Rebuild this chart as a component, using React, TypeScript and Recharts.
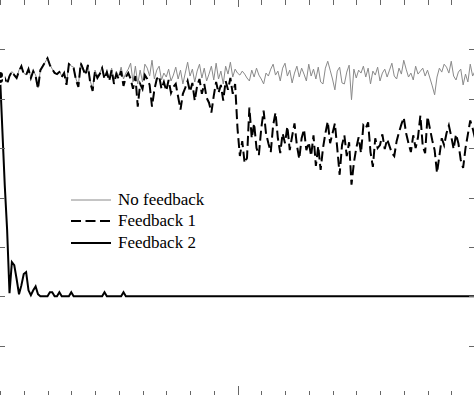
import React from 'react';
import { LineChart, Line, XAxis, YAxis } from 'recharts';

// sample index 0..200
const noFeedback = [
  4.40, 4.36, 4.42, 4.33, 4.47, 4.55, 4.50, 4.42, 4.58, 4.66, 4.52, 4.48, 4.60, 4.44, 4.56, 4.48, 4.22, 4.58, 4.68, 4.74,
  4.82, 4.70, 4.60, 4.55, 4.50, 4.56, 4.46, 4.52, 4.30, 4.72, 4.66, 4.64, 4.40, 4.27, 4.74, 4.62, 4.50, 4.70, 4.36, 4.20,
  4.58, 4.46, 4.52, 4.64, 4.44, 4.56, 4.40, 4.62, 4.36, 4.55, 4.46, 4.64, 4.40, 4.52, 4.60, 4.72, 4.34, 4.66, 4.30, 4.58,
  4.34, 4.70, 4.62, 4.46, 4.78, 4.40, 4.58, 4.66, 4.38, 4.52, 4.44, 4.60, 4.36, 4.48, 4.64, 4.40, 4.58, 4.30, 4.52, 4.74,
  4.46, 4.60, 4.34, 4.56, 4.70, 4.42, 4.62, 4.36, 4.50, 4.66, 4.38, 4.72, 4.40, 4.56, 4.30, 4.66, 4.50, 4.74, 4.44, 4.60,
  4.52, 4.48, 4.56, 4.50, 4.42, 4.36, 4.58, 4.44, 4.62, 4.48, 4.40, 4.30, 4.52, 4.46, 4.60, 4.70, 4.48, 4.56, 4.36, 4.62,
  4.72, 4.46, 4.58, 4.32, 4.52, 4.66, 4.44, 4.62, 4.50, 4.36, 4.70, 4.46, 4.60, 4.40, 4.64, 4.34, 4.30, 4.62, 4.76, 4.58,
  4.40, 4.18, 4.56, 4.64, 4.32, 4.30, 4.54, 4.68, 3.98, 4.60, 4.42, 4.58, 4.52, 4.66, 4.44, 4.62, 4.30, 4.56, 4.48, 4.64,
  4.36, 4.52, 4.60, 4.44, 4.58, 4.72, 4.46, 4.40, 4.62, 4.50, 4.78, 4.60, 4.44, 4.52, 4.38, 4.66, 4.50, 4.56, 4.62, 4.46,
  4.58, 4.42, 4.26, 4.08, 4.44, 4.62, 4.54, 4.70, 4.64, 4.52, 4.76, 4.46, 4.38, 4.54, 4.60, 4.28, 4.50, 4.34, 4.70, 4.46,
  4.56,
];

const feedback1 = [
  4.38, 4.36, 4.42, 4.30, 4.46, 4.55, 4.48, 4.42, 4.56, 4.66, 4.50, 4.48, 4.60, 4.42, 4.56, 4.46, 4.20, 4.58, 4.66, 4.74,
  4.82, 4.68, 4.60, 4.52, 4.50, 4.54, 4.44, 4.52, 4.28, 4.70, 4.66, 4.62, 4.38, 4.24, 4.72, 4.60, 4.48, 4.68, 4.32, 4.16,
  4.56, 4.42, 4.50, 4.62, 4.40, 4.54, 4.36, 4.58, 4.30, 4.50, 4.40, 4.56, 4.26, 4.44, 4.52, 4.40, 4.20, 4.46, 3.84, 4.30,
  4.20, 4.48, 4.40, 4.28, 3.84, 4.18, 4.40, 4.46, 4.20, 4.34, 4.16, 4.38, 4.12, 4.24, 4.30, 4.04, 3.78, 4.10, 4.22, 4.36,
  4.14, 4.32, 3.96, 4.26, 4.40, 4.10, 4.30, 4.02, 3.92, 3.72, 4.06, 4.34, 4.12, 4.28, 3.96, 4.36, 4.18, 4.42, 4.10, 4.30,
  3.40, 2.84, 3.14, 2.70, 2.80, 3.82, 3.20, 3.50, 3.00, 2.86, 3.40, 3.76, 3.30, 3.10, 2.92, 3.46, 3.72, 3.20, 2.90, 3.30,
  3.10, 3.44, 2.96, 3.24, 3.50, 3.06, 2.78, 3.20, 3.38, 2.96, 3.12, 2.84, 3.26, 2.64, 3.04, 2.56, 3.00, 3.30, 3.54, 3.10,
  3.30, 3.50, 3.00, 2.46, 3.06, 3.26, 2.84, 3.12, 2.26, 2.70, 3.00, 3.22, 2.90, 3.46, 3.40, 3.52, 2.92, 2.62, 3.20, 3.00,
  3.06, 3.28, 2.98, 3.18, 3.04, 2.90, 2.84, 3.14, 3.32, 3.48, 3.62, 3.30, 3.10, 2.92, 3.26, 3.00, 3.22, 3.66, 3.04, 2.90,
  3.64, 3.40, 3.16, 2.96, 2.50, 2.84, 3.20, 3.06, 3.30, 3.46, 3.24, 2.98, 3.28, 3.10, 2.76, 2.60, 3.00, 3.28, 3.56, 3.40,
  3.20,
];

const feedback2Head = [
  4.48, 3.36, 2.25, 1.34, 0.06, 0.69, 0.63, 0.35, 0.04, 0.22, 0.45, 0.49, 0.12, 0.02, 0.12, 0.20, 0.04, 0, 0, 0,
  0, 0.08, 0.08, 0, 0, 0.08, 0, 0, 0, 0, 0.08, 0, 0, 0, 0, 0, 0, 0, 0, 0,
  0, 0, 0, 0, 0.08, 0, 0, 0, 0, 0, 0, 0, 0.08, 0,
];

const xTicks = [0, 10, 20, 30, 40, 50, 60, 70, 80, 90, 100, 110, 120, 130, 140, 150, 160, 170, 180, 190, 200];
const yTicks = [-1, 0, 1, 2, 3, 4, 5];

const data = noFeedback.map((v, i) => ({
  x: i,
  nf: v,
  f1: feedback1[i],
  f2: i < feedback2Head.length ? feedback2Head[i] : 0,
}));

const tickColor = '#666';
const W = 474;
const H = 395;

// inward ticks on the bottom edge
const BottomTick = (p: any) => {
  const major = p.payload.value === 100;
  const x = Math.round(p.x) + 0.5;
  return <line x1={x} x2={x} y1={H} y2={H - (major ? 9 : 4)} stroke={tickColor} strokeWidth={1} />;
};
// inward ticks on the top edge
const TopTick = (p: any) => {
  const major = p.payload.value === 100;
  const x = Math.round(p.x) + 0.5;
  return <line x1={x} x2={x} y1={0} y2={major ? 7 : 5} stroke={tickColor} strokeWidth={1} />;
};
// inward ticks on both the left and the right edge
const YTick = (p: any) => {
  const y = Math.round(p.y) + 0.5;
  return (
    <g>
      <line x1={0} x2={5} y1={y} y2={y} stroke={tickColor} strokeWidth={1} />
      <line x1={W} x2={W - 5} y1={y} y2={y} stroke={tickColor} strokeWidth={1} />
    </g>
  );
};

const legendItems = [
  { label: 'No feedback', color: '#8a8a8a', width: 1, dash: undefined },
  { label: 'Feedback 1', color: '#000', width: 2, dash: '10 4.5' },
  { label: 'Feedback 2', color: '#000', width: 2, dash: undefined },
];

const LegendBox = () => (
  <div style={{ position: 'absolute', left: 71, top: 189, fontFamily: '"Liberation Serif", serif', fontSize: 17, color: '#000' }}>
    {legendItems.map((it) => (
      <div key={it.label} style={{ display: 'flex', alignItems: 'center', height: 21.5 }}>
        <svg width={40} height={10} style={{ marginRight: 7 }}>
          <line x1={0} x2={40} y1={5} y2={5} stroke={it.color} strokeWidth={it.width} strokeDasharray={it.dash} />
        </svg>
        <span>{it.label}</span>
      </div>
    ))}
  </div>
);

export default function App() {
  return (
    <div style={{ position: 'absolute', left: 0, top: 0, width: W, height: H, background: '#fff' }}>
      <LineChart width={W} height={H} data={data} margin={{ top: -1, right: -1, bottom: -1, left: -1 }}>
        <XAxis xAxisId="b" dataKey="x" type="number" domain={[0, 200]} ticks={xTicks} interval={0}
          orientation="bottom" height={1} axisLine={false} tickLine={false} tickSize={0} tickMargin={0} tick={BottomTick} />
        <XAxis xAxisId="t" dataKey="x" type="number" domain={[0, 200]} ticks={xTicks} interval={0}
          orientation="top" height={1} axisLine={false} tickLine={false} tickSize={0} tickMargin={0} tick={TopTick} />
        <YAxis type="number" domain={[-2, 6]} ticks={yTicks} interval={0} orientation="left"
          width={1} axisLine={false} tickLine={false} tickSize={0} tickMargin={0} tick={YTick} />
        <Line xAxisId="t" dataKey="nf" name="No feedback" type="linear" stroke="#8a8a8a"
          strokeWidth={1} dot={false} isAnimationActive={false} />
        <Line xAxisId="b" dataKey="f1" name="Feedback 1" type="linear" stroke="#000"
          strokeWidth={2} strokeDasharray="10 4.5" dot={false} isAnimationActive={false} />
        <Line xAxisId="b" dataKey="f2" name="Feedback 2" type="linear" stroke="#000"
          strokeWidth={2} dot={false} isAnimationActive={false} />
      </LineChart>
      <LegendBox />
    </div>
  );
}
